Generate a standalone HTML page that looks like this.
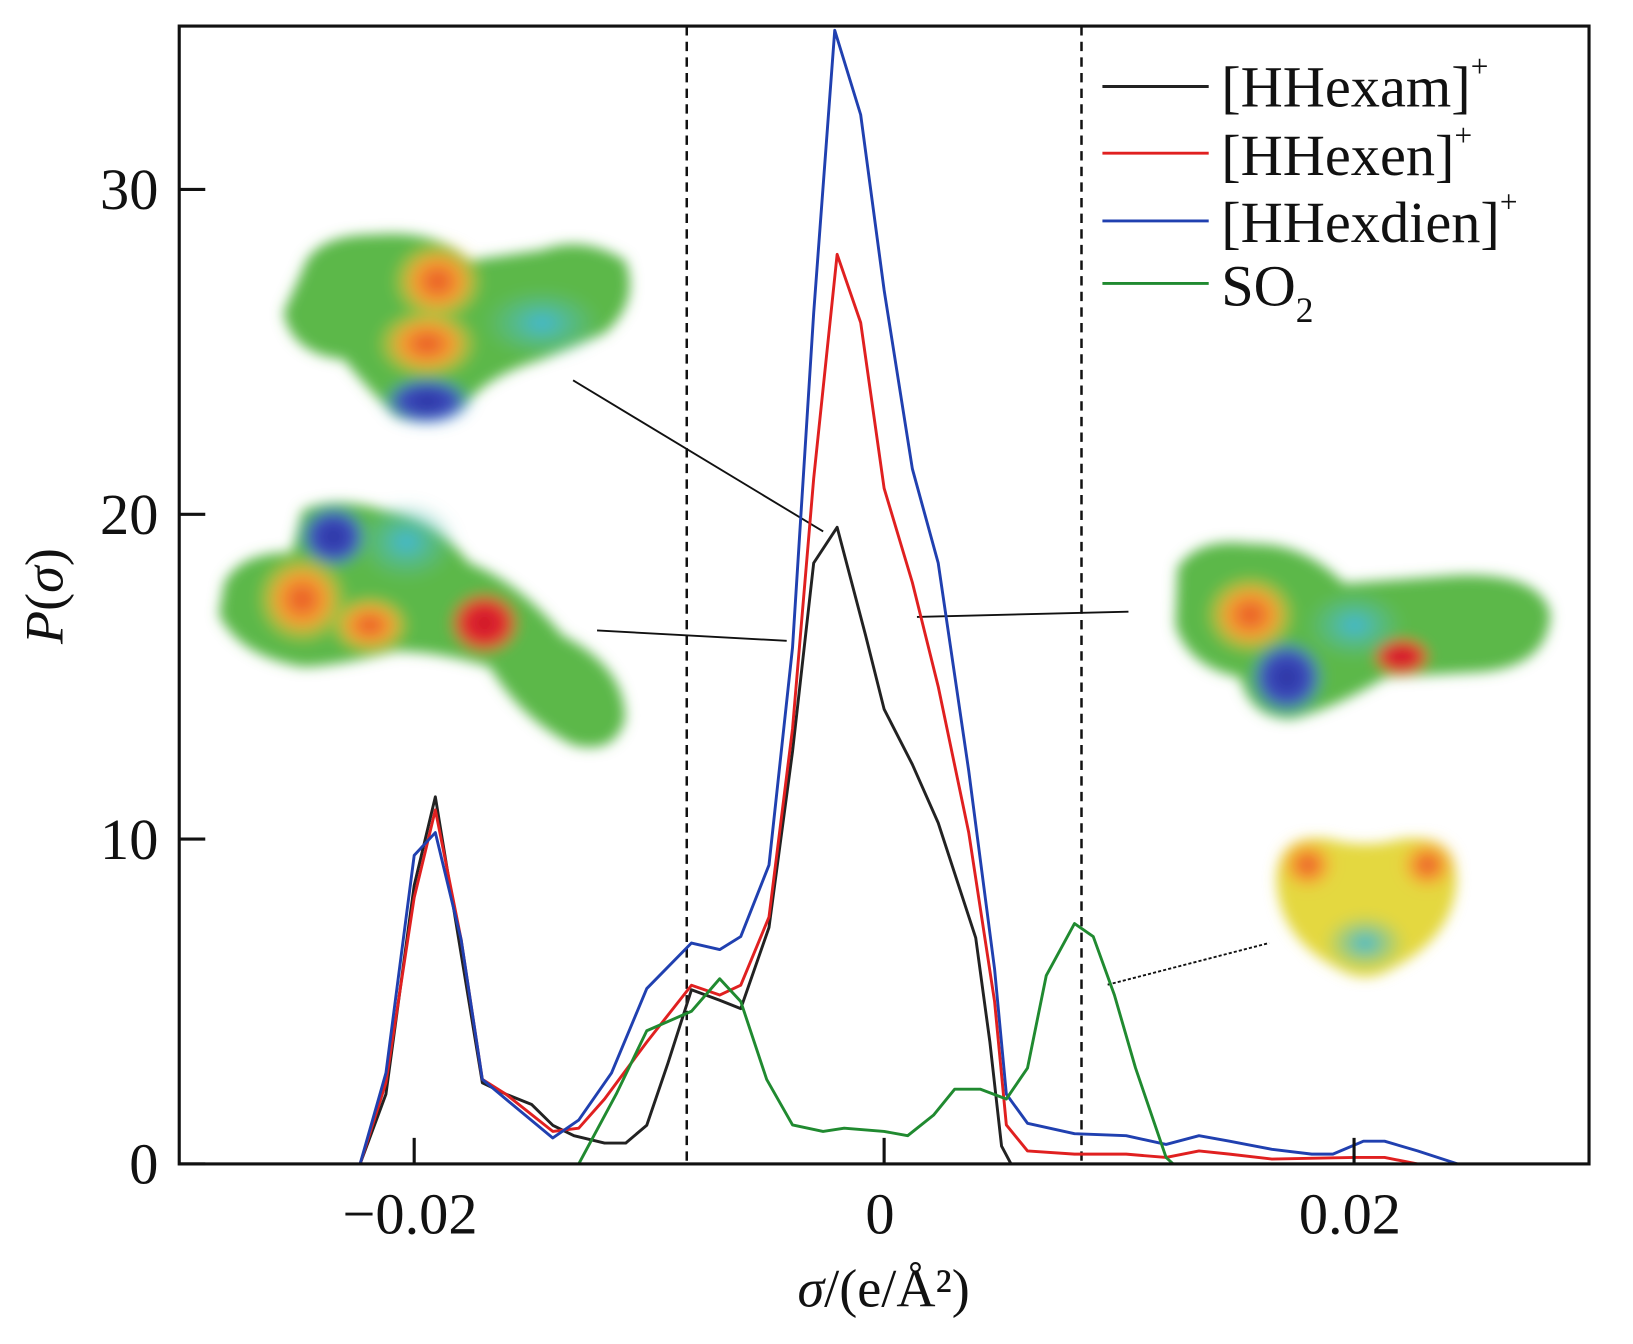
<!DOCTYPE html>
<html><head><meta charset="utf-8"><style>
html,body{margin:0;padding:0;background:#fff;width:1633px;height:1344px;overflow:hidden}
svg{display:block}
text{font-family:"Liberation Serif",serif;fill:#111}
</style></head><body>
<svg id="chart" width="1633" height="1344" viewBox="0 0 1567.2 1289.8" xmlns="http://www.w3.org/2000/svg">
<defs>
<filter id="blur" x="-20%" y="-20%" width="140%" height="140%"><feGaussianBlur stdDeviation="6"/></filter>
<radialGradient id="gOr"><stop offset="0" stop-color="#e8502a"/><stop offset="0.5" stop-color="#f5a030"/><stop offset="1" stop-color="#e8d840" stop-opacity="0"/></radialGradient>
<radialGradient id="gRed"><stop offset="0" stop-color="#c8102a"/><stop offset="0.6" stop-color="#e83030"/><stop offset="1" stop-color="#f08030" stop-opacity="0"/></radialGradient>
<radialGradient id="gBlue"><stop offset="0" stop-color="#2830a0"/><stop offset="0.6" stop-color="#4050c0"/><stop offset="1" stop-color="#40b0d0" stop-opacity="0"/></radialGradient>
<radialGradient id="gCy"><stop offset="0" stop-color="#40b8d8"/><stop offset="1" stop-color="#60c0a0" stop-opacity="0"/></radialGradient>
</defs>

<g>
<g filter="url(#blur)">
<path d="M290,260 Q300,225 360,225 Q420,220 450,250 L520,240 Q560,225 600,250 Q615,290 580,320 L520,345 Q470,360 450,385 Q420,410 380,400 Q350,370 330,345 Q280,340 272,300 Z" fill="#5cb848"/>
<ellipse cx="420" cy="270" rx="45" ry="40" fill="url(#gOr)"/>
<ellipse cx="410" cy="330" rx="50" ry="35" fill="url(#gOr)"/>
<ellipse cx="410" cy="385" rx="45" ry="25" fill="url(#gBlue)"/>
<ellipse cx="520" cy="310" rx="60" ry="35" fill="url(#gCy)"/>
</g></g>
<g>
<g filter="url(#blur)">
<path d="M215,560 Q230,530 280,530 L290,490 Q320,475 370,490 Q420,500 450,540 Q500,560 540,610 Q600,640 600,690 Q590,725 550,715 Q500,690 470,640 Q420,625 380,625 Q320,640 290,640 Q230,630 210,590 Z" fill="#5cb848"/>
<ellipse cx="320" cy="515" rx="35" ry="32" fill="url(#gBlue)"/>
<ellipse cx="290" cy="575" rx="45" ry="45" fill="url(#gOr)"/>
<ellipse cx="355" cy="600" rx="40" ry="30" fill="url(#gOr)"/>
<ellipse cx="465" cy="598" rx="36" ry="32" fill="url(#gRed)"/>
<ellipse cx="390" cy="520" rx="50" ry="40" fill="url(#gCy)"/>
</g></g>
<g>
<g filter="url(#blur)">
<path d="M1130,545 Q1150,515 1200,522 Q1250,520 1290,560 L1400,552 Q1480,550 1488,590 Q1485,640 1420,645 L1330,650 Q1280,680 1240,690 Q1200,690 1190,650 Q1140,640 1128,600 Z" fill="#5cb848"/>
<ellipse cx="1200" cy="590" rx="45" ry="40" fill="url(#gOr)"/>
<ellipse cx="1235" cy="650" rx="38" ry="38" fill="url(#gBlue)"/>
<ellipse cx="1345" cy="630" rx="30" ry="20" fill="url(#gRed)"/>
<ellipse cx="1300" cy="600" rx="50" ry="35" fill="url(#gCy)"/>
</g></g>
<g>
<g filter="url(#blur)">
<path d="M1225,840 Q1230,800 1275,805 Q1310,815 1345,805 Q1395,800 1398,845 Q1395,900 1335,930 Q1310,945 1285,930 Q1225,900 1225,840 Z" fill="#e4d840"/>
<ellipse cx="1255" cy="830" rx="30" ry="28" fill="url(#gOr)"/>
<ellipse cx="1370" cy="830" rx="30" ry="28" fill="url(#gOr)"/>
<ellipse cx="1310" cy="905" rx="40" ry="28" fill="url(#gCy)"/>
</g></g>

<g stroke="#111" stroke-width="1.8" fill="none">
<line x1="550" y1="365" x2="790" y2="510"/>
<line x1="573" y1="605" x2="755" y2="615"/>
<line x1="880" y1="592" x2="1083" y2="587"/>
<line x1="1063" y1="945" x2="1218" y2="905" stroke-dasharray="3,2"/>
</g>

<g id="plot"></g>

<rect x="172" y="25" width="1353" height="1092" fill="none" stroke="#111" stroke-width="3"/>

<g font-size="56">
<g><line x1="1058" y1="83" x2="1160" y2="83" stroke="#222" stroke-width="2.8"/><text x="1172" y="102">[HHexam]<tspan font-size="30" dy="-28">+</tspan></text></g>
<g><line x1="1058" y1="147" x2="1160" y2="147" stroke="#e02020" stroke-width="2.8"/><text x="1172" y="168">[HHexen]<tspan font-size="30" dy="-28">+</tspan></text></g>
<g><line x1="1058" y1="212" x2="1160" y2="212" stroke="#2040b0" stroke-width="2.8"/><text x="1172" y="232">[HHexdien]<tspan font-size="30" dy="-28">+</tspan></text></g>
<g><line x1="1058" y1="272" x2="1160" y2="272" stroke="#208a30" stroke-width="2.8"/><text x="1172" y="293">SO<tspan font-size="34" dy="16">2</tspan></text></g>
</g>

<text x="848" y="1254" font-size="52" text-anchor="middle"><tspan font-style="italic">σ</tspan>/(e/Å²)</text>
<text transform="translate(60,572) rotate(-90)" font-size="52" text-anchor="middle"><tspan font-style="italic">P</tspan>(<tspan font-style="italic">σ</tspan>)</text>
</svg>
<script>
const xTicks=[-0.02,0,0.02];
const xTickLabels=["\u22120.02","0","0.02"];
const yTicks=[0,10,20,30];
const yTickLabels=["0","10","20","30"];
const dashedSigma=[-0.0084,0.0084];
const sigHexam=[-0.0223,-0.0212,-0.0200,-0.0191,-0.0181,-0.0171,-0.0161,-0.0150,-0.0141,-0.0132,-0.0119,-0.0110,-0.0101,-0.0092,-0.0082,-0.0070,-0.0061,-0.0049,-0.0039,-0.0030,-0.0020,-0.0008,0,0.0012,0.0023,0.0039,0.0045,0.0050,0.0054];
const pHexam=[0,2.15,8.57,11.3,6.9,2.5,2.15,1.83,1.19,0.87,0.64,0.64,1.19,3.1,5.36,5.04,4.78,7.28,12.7,18.5,19.6,16.3,14.0,12.3,10.5,6.96,3.75,0.55,0];
const sigHexen=[-0.0223,-0.0212,-0.0200,-0.0191,-0.0180,-0.0171,-0.0161,-0.0141,-0.0130,-0.0119,-0.0101,-0.0082,-0.0070,-0.0061,-0.0049,-0.0039,-0.0030,-0.0020,-0.0010,0,0.0012,0.0023,0.0036,0.0047,0.0052,0.0061,0.0081,0.0103,0.0120,0.0134,0.0147,0.0165,0.0200,0.0213,0.0227];
const pHexen=[0,2.5,8.2,10.9,6.9,2.6,2.15,1.0,1.1,2.0,3.75,5.5,5.2,5.5,7.6,13.4,21.1,28.0,25.9,20.8,17.9,14.7,10.2,5.0,1.2,0.4,0.3,0.3,0.2,0.4,0.3,0.15,0.2,0.2,0];
const sigHexdien=[-0.0223,-0.0212,-0.0200,-0.0191,-0.0180,-0.0171,-0.0161,-0.0141,-0.0130,-0.0116,-0.0101,-0.0082,-0.0070,-0.0061,-0.0049,-0.0039,-0.0030,-0.0021,-0.0010,0,0.0012,0.0023,0.0036,0.0047,0.0052,0.0061,0.0081,0.0103,0.0120,0.0134,0.0147,0.0165,0.0182,0.0191,0.0204,0.0213,0.0227,0.0244];
const pHexdien=[0,2.8,9.5,10.2,6.9,2.6,2.0,0.8,1.35,2.8,5.4,6.8,6.6,7.0,9.2,15.9,26.2,34.9,32.3,26.9,21.4,18.5,12.1,6.0,2.15,1.25,0.93,0.87,0.6,0.87,0.7,0.45,0.3,0.3,0.7,0.7,0.4,0];
const sigSO2=[-0.0130,-0.0114,-0.0101,-0.0082,-0.0070,-0.0061,-0.0050,-0.0039,-0.0026,-0.0017,0,0.0010,0.0021,0.0030,0.0041,0.0052,0.0061,0.0069,0.0081,0.0089,0.0098,0.0107,0.0120,0.0123];
const pSO2=[0,2.15,4.1,4.7,5.7,5.0,2.6,1.2,1.0,1.1,1.0,0.87,1.5,2.3,2.3,2.0,2.95,5.8,7.4,7.0,5.2,2.95,0.2,0];

const X0=172,X1=1525,Y0=1117,Y1=25,SMIN=-0.03,SMAX=0.03,PMAX=35.03;
function xs(s){return X0+(s-SMIN)/(SMAX-SMIN)*(X1-X0);}
function ys(p){return Y0-p/PMAX*(Y0-Y1);}
const NS="http://www.w3.org/2000/svg";
const plot=document.getElementById('plot');
function mk(tag,attrs){const e=document.createElementNS(NS,tag);for(const k in attrs)e.setAttribute(k,attrs[k]);return e;}

dashedSigma.forEach((s,i)=>{
  const l=mk('line',{x1:xs(s),x2:xs(s),y1:Y1,y2:Y0,stroke:'#111','stroke-width':2.4,'stroke-dasharray':'9,6'});
  
  
  plot.appendChild(l);
});

const series=[[sigHexam,pHexam,'#222','hhexam'],[sigHexen,pHexen,'#e02020','hhexen'],[sigHexdien,pHexdien,'#2040b0','hhexdien'],[sigSO2,pSO2,'#208a30','so2']];
series.forEach(([sx,py,c,n])=>{
  const pts=sx.map((s,i)=>xs(s).toFixed(1)+','+ys(py[i]).toFixed(1)).join(' ');
  const pl=mk('polyline',{points:pts,fill:'none',stroke:c,'stroke-width':2.8,'stroke-linejoin':'round'});
  
  
  plot.appendChild(pl);
});

xTicks.forEach((t,i)=>{
  const tk=mk('line',{x1:xs(t),x2:xs(t),y1:Y0,y2:Y0-25,stroke:'#111','stroke-width':3});
  
  
  plot.appendChild(tk);
  const tx=mk('text',{x:xs(t)-4,y:1184,'font-size':56,'text-anchor':'middle'});
  tx.textContent=xTickLabels[i];
  
  
  plot.appendChild(tx);
});
yTicks.forEach((t,i)=>{
  const tk=mk('line',{x1:X0,x2:X0+25,y1:ys(t),y2:ys(t),stroke:'#111','stroke-width':3});
  
  
  plot.appendChild(tk);
  const tx=mk('text',{x:152,y:ys(t)+19,'font-size':56,'text-anchor':'end'});
  tx.textContent=yTickLabels[i];
  
  
  plot.appendChild(tx);
});
</script>
</body></html>
